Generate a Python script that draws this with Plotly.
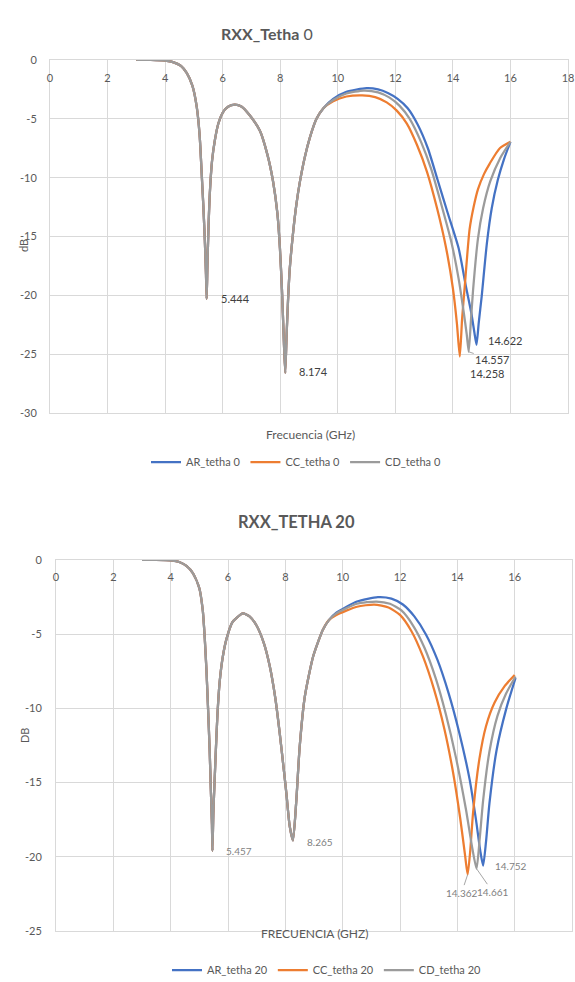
import numpy as np
import plotly.graph_objects as go

# ---------------- DATA ----------------
# Tetha 0 : common part of the three curves (GHz, dB)
f0_common = [3.0, 3.5, 4.0, 4.3, 4.55, 4.75, 4.95, 5.1, 5.2, 5.27, 5.33, 5.38, 5.42, 5.444,
             5.47, 5.51, 5.55, 5.63, 5.73, 5.85, 6.02, 6.2, 6.42, 6.65, 6.94, 7.29, 7.55,
             7.75, 7.9, 7.99, 8.06, 8.12, 8.174, 8.22, 8.27, 8.33, 8.45, 8.56, 8.68, 8.85, 9.03,
             9.26, 9.5]
db0_common = [0.0, 0.0, -0.05, -0.2, -0.5, -1.1, -2.2, -4.0, -6.4, -9.6, -12.5, -15.3, -18.2, -20.3,
              -17.5, -14.0, -11.5, -8.6, -6.8, -5.4, -4.4, -3.95, -3.8, -3.95, -4.7, -6.0, -8.0,
              -10.3, -13.0, -16.0, -19.5, -23.5, -26.6, -23.5, -20.5, -17.8, -14.6, -12.3, -10.4,
              -8.3, -6.6, -5.0, -4.1]

f0_ar = [9.84, 10.3, 11.0, 11.4, 11.74, 12.08, 12.43, 12.78, 13.13, 13.47, 13.82, 14.2, 14.45,
         14.64, 14.75, 14.82, 14.9, 15.0, 15.18, 15.35, 15.56, 15.78, 16.0]
db0_ar = [-3.3, -2.7, -2.4, -2.5, -2.8, -3.3, -4.1, -5.5, -7.5, -10.2, -13.0, -16.0, -19.2,
          -21.5, -23.2, -24.2, -22.3, -20.1, -15.6, -12.6, -10.2, -8.4, -6.95]

f0_cc = [9.84, 10.3, 10.85, 11.3, 11.7, 12.05, 12.4, 12.75, 13.1, 13.45, 13.75, 14.0, 14.14, 14.24,
         14.32, 14.41, 14.58, 14.72, 14.87, 15.08, 15.28, 15.63, 16.0]
db0_cc = [-3.5, -3.1, -3.0, -3.15, -3.6, -4.3, -5.4, -7.2, -9.5, -12.6, -15.8, -19.4, -22.4, -25.2,
          -22.0, -19.3, -14.4, -12.5, -11.0, -9.7, -8.8, -7.5, -6.95]

f0_cd = [9.84, 10.3, 10.9, 11.4, 11.8, 12.15, 12.5, 12.9, 13.25, 13.6, 13.95, 14.2, 14.38, 14.48,
         14.55, 14.62, 14.7, 14.87, 15.05, 15.3, 15.65, 16.0]
db0_cd = [-3.4, -2.85, -2.6, -2.75, -3.2, -3.9, -5.0, -7.0, -9.3, -12.3, -15.5, -18.6, -21.5, -23.3,
          -24.8, -22.4, -19.6, -15.2, -12.6, -10.3, -8.3, -6.95]

# Tetha 20 : common part
f20_common = [3.0, 3.5, 4.0, 4.32, 4.55, 4.78, 5.0, 5.12, 5.19, 5.25, 5.3, 5.36, 5.4, 5.44, 5.457,
              5.49, 5.53, 5.57, 5.63, 5.71, 5.82, 5.95, 6.15, 6.3, 6.52, 6.75, 6.99, 7.25, 7.45,
              7.65, 7.8, 7.95, 8.04, 8.15, 8.265, 8.38, 8.5, 8.68, 8.97, 9.31, 9.52]
db20_common = [0.0, 0.0, -0.03, -0.15, -0.4, -0.9, -1.9, -3.4, -5.3, -7.5, -9.8, -12.8, -15.4, -17.8, -19.6,
               -17.0, -15.0, -13.1, -10.5, -8.2, -6.5, -5.3, -4.2, -3.9, -3.6, -3.8, -4.4, -5.6, -7.1,
               -9.3, -11.6, -14.2, -15.8, -17.9, -18.9, -16.3, -12.6, -9.2, -6.5, -4.7, -4.05]

f20_ar = [9.78, 10.5, 11.23, 11.7, 12.1, 12.5, 12.9, 13.3, 13.7, 14.05, 14.43, 14.65, 14.8, 14.9,
          15.0, 15.12, 15.37, 15.71, 16.03]
db20_ar = [-3.55, -2.8, -2.5, -2.6, -3.0, -3.8, -5.0, -6.7, -9.0, -11.5, -14.8, -17.5, -19.6, -20.6,
           -19.0, -16.4, -12.8, -10.0, -7.95]

f20_cc = [9.78, 10.5, 11.1, 11.6, 12.0, 12.4, 12.8, 13.2, 13.55, 13.85, 14.1, 14.27, 14.36, 14.45,
          14.55, 14.77, 15.0, 15.3, 15.65, 16.0]
db20_cc = [-3.7, -3.15, -3.0, -3.2, -3.7, -4.8, -6.5, -8.8, -11.4, -14.3, -17.4, -19.9, -21.2, -19.6,
           -17.0, -13.4, -11.2, -9.6, -8.5, -7.75]

f20_cd = [9.78, 10.5, 11.18, 11.65, 12.05, 12.45, 12.85, 13.25, 13.6, 13.95, 14.3, 14.52, 14.67,
          14.78, 14.9, 15.12, 15.4, 15.7, 16.03]
db20_cd = [-3.6, -2.95, -2.8, -2.95, -3.4, -4.4, -5.9, -8.0, -10.4, -13.3, -16.8, -19.4, -20.8,
           -18.8, -16.2, -12.9, -10.5, -9.0, -7.85]

names0 = ["AR_tetha 0", "CC_tetha 0", "CD_tetha 0"]
names20 = ["AR_tetha 20", "CC_tetha 20", "CD_tetha 20"]
labels0 = ["5.444", "8.174", "14.622", "14.557", "14.258"]
labels20 = ["5.457", "8.265", "14.752", "14.362", "14.661"]
x_ticks = list(range(0, 19, 2))
y0_ticks = [0, -5, -10, -15, -20, -25, -30]
y20_ticks = [0, -5, -10, -15, -20, -25]

# ---------------- STYLE ----------------
colors = ["#4472C4", "#ED7D31", "#9B9B9B"]
W, H = 575, 982
FONT = "Lato"
TXT = "#595959"
GRID = "#d9d9d9"

def px_x(p):
    return p / W

def px_y(p):
    return 1 - p / H

fig = go.Figure()

top_series = [(f0_common + f0_ar, db0_common + db0_ar),
              (f0_common + f0_cc, db0_common + db0_cc),
              (f0_common + f0_cd, db0_common + db0_cd)]
bot_series = [(f20_common + f20_ar, db20_common + db20_ar),
              (f20_common + f20_cc, db20_common + db20_cc),
              (f20_common + f20_cd, db20_common + db20_cd)]

for (fx, fy), nm, c in zip(top_series, names0, colors):
    fig.add_trace(go.Scatter(x=fx, y=fy, name=nm, mode="lines",
                             line=dict(color=c, width=2.25, shape="spline", smoothing=0.6),
                             xaxis="x", yaxis="y", legend="legend"))
for (fx, fy), nm, c in zip(bot_series, names20, colors):
    fig.add_trace(go.Scatter(x=fx, y=fy, name=nm, mode="lines",
                             line=dict(color=c, width=2.25, shape="spline", smoothing=0.6),
                             xaxis="x2", yaxis="y2", legend="legend2"))

def axis_common():
    return dict(showgrid=True, gridcolor=GRID, gridwidth=1, showline=True, mirror=True,
                linecolor=GRID, linewidth=1, zeroline=False, ticks="",
                tickfont=dict(family=FONT, size=11, color=TXT))

xa = axis_common()
xa.update(domain=[px_x(50), px_x(568)], range=[0, 18], tickvals=x_ticks,
          ticktext=[str(v) for v in x_ticks], side="top",
          ticklabelposition="outside", ticklabelstandoff=-27, anchor="y")
ya = axis_common()
ya.update(domain=[px_y(413), px_y(60)], range=[-30, 0], tickvals=y0_ticks,
          ticktext=[str(v) for v in y0_ticks], ticklabelstandoff=10, anchor="x")
xa2 = axis_common()
xa2.update(domain=[px_x(56), px_x(572)], range=[0, 18], tickvals=x_ticks,
           ticktext=[str(v) for v in x_ticks], side="top",
           ticklabelposition="outside", ticklabelstandoff=-26, anchor="y2")
ya2 = axis_common()
ya2.update(domain=[px_y(931), px_y(560)], range=[-25, 0], tickvals=y20_ticks,
           ticktext=[str(v) for v in y20_ticks], ticklabelstandoff=11, anchor="x2")

def min_point(fx, fy, lo, hi):
    fx = np.asarray(fx); fy = np.asarray(fy)
    m = (fx >= lo) & (fx <= hi)
    i = np.argmin(np.where(m, fy, np.inf))
    return float(fx[i]), float(fy[i])

ann = []
# titles
ann.append(dict(text="<b>RXX_Tetha</b> 0", x=px_x(267), y=px_y(22), xref="paper", yref="paper",
                showarrow=False, font=dict(family=FONT, size=16, color=TXT)))
ann.append(dict(text="<b>RXX_TETHA 20</b>", x=px_x(296), y=px_y(522), xref="paper", yref="paper",
                showarrow=False, font=dict(family=FONT, size=16.5, color=TXT)))
# axis titles
ann.append(dict(text="dB", x=px_x(15), y=px_y(237), xref="paper", yref="paper", textangle=-90,
                showarrow=False, font=dict(family=FONT, size=11, color=TXT)))
ann.append(dict(text="DB", x=px_x(16), y=px_y(745), xref="paper", yref="paper", textangle=-90,
                showarrow=False, font=dict(family=FONT, size=11, color=TXT)))
ann.append(dict(text="Frecuencia (GHz)", x=px_x(310), y=px_y(434), xref="paper", yref="paper",
                showarrow=False, font=dict(family=FONT, size=12, color=TXT)))
ann.append(dict(text="FRECUENCIA (GHZ)", x=px_x(314), y=px_y(943), xref="paper", yref="paper",
                showarrow=False, font=dict(family=FONT, size=12, color=TXT)))

# data labels, top chart
lf0 = dict(family=FONT, size=11, color="#404040")
p = min_point(*top_series[2], 5, 6)
ann.append(dict(text=labels0[0], x=p[0], y=p[1], xref="x", yref="y", showarrow=False,
                xanchor="left", xshift=12, font=lf0))
p = min_point(*top_series[2], 7, 9)
ann.append(dict(text=labels0[1], x=p[0], y=p[1], xref="x", yref="y", showarrow=False,
                xanchor="left", xshift=12, yshift=1, font=lf0))
p = min_point(*top_series[0], 13, 16)
ann.append(dict(text=labels0[2], x=p[0], y=p[1], xref="x", yref="y", showarrow=False,
                xanchor="left", xshift=10, yshift=4, font=lf0))
p = min_point(*top_series[2], 13, 16)
ann.append(dict(text=labels0[3], x=p[0], y=p[1], xref="x", yref="y", showarrow=True,
                arrowhead=0, arrowwidth=1, arrowcolor="#a6a6a6", ax=24, ay=8, font=lf0))
p = min_point(*top_series[1], 13, 16)
ann.append(dict(text=labels0[4], x=p[0], y=p[1], xref="x", yref="y", showarrow=True,
                arrowhead=0, arrowwidth=1, arrowcolor="#a6a6a6", ax=28, ay=17, font=lf0))

# data labels, bottom chart
lf20 = dict(family=FONT, size=10, color="#7f7f7f")
p = min_point(*bot_series[2], 5, 6)
ann.append(dict(text=labels20[0], x=p[0], y=p[1], xref="x2", yref="y2", showarrow=False,
                xanchor="left", xshift=12, font=lf20))
p = min_point(*bot_series[2], 7, 9)
ann.append(dict(text=labels20[1], x=p[0], y=p[1], xref="x2", yref="y2", showarrow=False,
                xanchor="left", xshift=12, yshift=-2, font=lf20))
p = min_point(*bot_series[0], 13, 16)
ann.append(dict(text=labels20[2], x=p[0], y=p[1], xref="x2", yref="y2", showarrow=False,
                xanchor="left", xshift=10, font=lf20))
p = min_point(*bot_series[1], 13, 16)
ann.append(dict(text=labels20[3], x=p[0], y=p[1], xref="x2", yref="y2", showarrow=True,
                arrowhead=0, arrowwidth=1, arrowcolor="#a6a6a6", ax=-6, ay=18, font=lf20))
p = min_point(*bot_series[2], 13, 16)
ann.append(dict(text=labels20[4], x=p[0], y=p[1], xref="x2", yref="y2", showarrow=True,
                arrowhead=0, arrowwidth=1, arrowcolor="#a6a6a6", ax=16, ay=23, font=lf20))

leg = dict(orientation="h", xanchor="center", yanchor="middle", bgcolor="rgba(0,0,0,0)",
           font=dict(family=FONT, size=11, color=TXT), itemwidth=30)
leg1 = dict(leg, x=px_x(296), y=px_y(462))
leg2 = dict(leg, x=px_x(327), y=px_y(970))

fig.update_layout(width=W, height=H, margin=dict(l=0, r=0, t=0, b=0, autoexpand=False),
                  paper_bgcolor="white", plot_bgcolor="white",
                  xaxis=xa, yaxis=ya, xaxis2=xa2, yaxis2=ya2,
                  legend=leg1, legend2=leg2, annotations=ann, showlegend=True,
                  font=dict(family=FONT, color=TXT))

fig.write_html("out.html")
